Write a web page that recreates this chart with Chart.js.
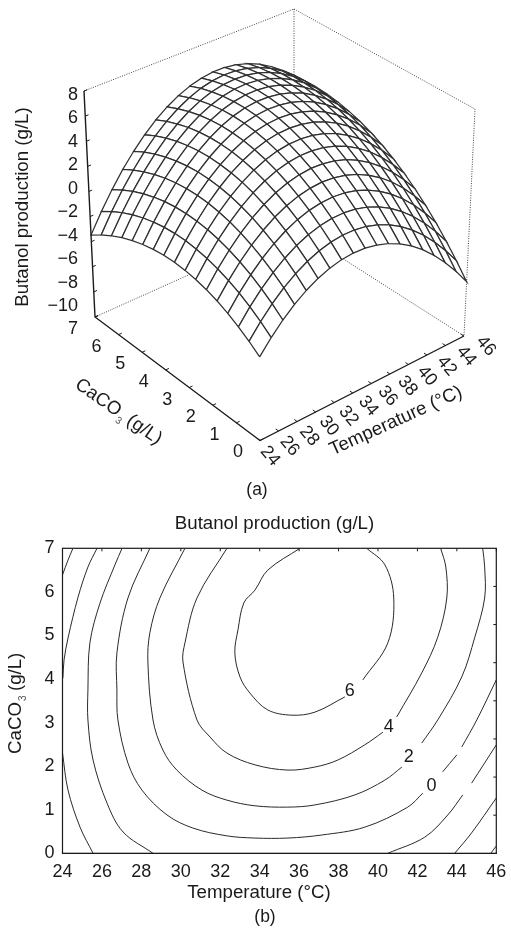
<!DOCTYPE html>
<html lang="en">
<head>
  <meta charset="utf-8">
  <title>butanol production</title>
  <style type="text/css">
  body { margin: 0; background: #fff; }
  canvas { position: absolute; left: 0; }
  #surf { top: 0; }
  #cont { top: 500px; }
  </style>
</head>
<body>
<canvas id="surf" width="511" height="500"></canvas>
<canvas id="cont" width="511" height="429"></canvas>

<script src="https://cdn.jsdelivr.net/npm/chart.js"></script>
<script>
  // === surface grid ===
  const T_MIN = 24, T_MAX = 46, C_MIN = 0, C_MAX = 7, Z_MIN = -10, Z_MAX = 8;
  const NT = 18, NC = 16; // mesh intervals
  const surfZ = [
    [-3.60,-2.98,-2.44,-1.98,-1.60,-1.30,-1.09,-0.96,-0.91,-0.94,-1.06,-1.26,-1.54,-1.90,-2.34,-2.87,-3.47],
    [-2.55,-1.90,-1.33,-0.84,-0.44,-0.11,0.13,0.29,0.37,0.36,0.27,0.10,-0.15,-0.48,-0.90,-1.39,-1.97],
    [-1.63,-0.95,-0.36,0.16,0.59,0.94,1.21,1.40,1.50,1.53,1.47,1.33,1.10,0.80,0.41,-0.06,-0.61],
    [-0.86,-0.15,0.48,1.02,1.48,1.86,2.16,2.37,2.51,2.56,2.53,2.41,2.22,1.94,1.58,1.14,0.62],
    [-0.22,0.52,1.17,1.74,2.23,2.64,2.96,3.21,3.37,3.45,3.45,3.36,3.19,2.94,2.61,2.20,1.70],
    [0.28,1.05,1.73,2.33,2.85,3.28,3.64,3.91,4.10,4.20,4.23,4.17,4.03,3.81,3.51,3.12,2.65],
    [0.65,1.44,2.15,2.78,3.32,3.79,4.17,4.47,4.68,4.82,4.87,4.84,4.73,4.54,4.26,3.91,3.47],
    [0.88,1.70,2.43,3.09,3.66,4.15,4.56,4.89,5.13,5.30,5.38,5.38,5.29,5.13,4.88,4.55,4.14],
    [0.96,1.81,2.58,3.26,3.86,4.38,4.82,5.17,5.45,5.64,5.75,5.78,5.72,5.58,5.36,5.06,4.68],
    [0.92,1.79,2.59,3.30,3.93,4.48,4.94,5.32,5.62,5.84,5.98,6.04,6.01,5.90,5.71,5.44,5.08],
    [0.73,1.64,2.46,3.20,3.85,4.43,4.92,5.33,5.66,5.91,6.08,6.16,6.16,6.08,5.91,5.67,5.34],
    [0.41,1.34,2.19,2.96,3.64,4.25,4.77,5.21,5.56,5.84,6.03,6.14,6.17,6.12,5.98,5.77,5.47],
    [-0.05,0.91,1.79,2.58,3.30,3.93,4.48,4.94,5.33,5.63,5.85,5.99,6.05,6.02,5.92,5.73,5.46],
    [-0.65,0.34,1.25,2.07,2.81,3.47,4.05,4.54,4.96,5.29,5.54,5.70,5.79,5.79,5.71,5.55,5.31],
    [-1.38,-0.37,0.57,1.42,2.19,2.87,3.48,4.00,4.44,4.80,5.08,5.28,5.39,5.42,5.37,5.24,5.02],
    [-2.26,-1.21,-0.25,0.63,1.43,2.14,2.78,3.33,3.80,4.18,4.49,4.71,4.85,4.91,4.89,4.78,4.60],
    [-3.27,-2.20,-1.21,-0.30,0.53,1.27,1.93,2.51,3.01,3.43,3.76,4.01,4.18,4.27,4.27,4.19,4.03],
    [-4.41,-3.31,-2.30,-1.36,-0.51,0.27,0.95,1.56,2.09,2.53,2.89,3.17,3.37,3.48,3.52,3.47,3.33],
    [-5.70,-4.57,-3.53,-2.56,-1.68,-0.88,-0.16,0.47,1.03,1.50,1.89,2.19,2.42,2.56,2.62,2.60,2.50]
  ];
  const zTicks = [8,6,4,2,0,-2,-4,-6,-8,-10];
  const tempTicks = [24,26,28,30,32,34,36,38,40,42,44,46];
  const caco3Ticks = [7,6,5,4,3,2,1,0];

  // === contours; gaps are where the original line breaks ===
  const m6aT = [24,24.28,24.53],                m6aC = [6.39,6.73,7];
  const m6bT = [45.72,46],                      m6bC = [0,0.17];
  const m4aT = [25.75,25.29,24.79,24.28,24.08,24.02], m4aC = [7,6.57,5.88,4.94,4.44,4.02];
  const m4bT = [24,24.28,24.89,25.55],          m4bC = [2.3,1.45,0.6,0];
  const m4cT = [43.89,44.75,46],                m4cC = [0,0.47,1.27];
  const m2aT = [27.02,26.66,25.9,25.39,25.29,25.29,25.55,26.26,27.07,28.59];
  const m2aC = [7,6.62,5.74,4.83,3.75,3.06,2.14,1.15,0.49,0];
  const m2bT = [40.5,42.37,43.54,44.3],         m2bC = [0,0.37,0.88,1.34];
  const m2cT = [44.75,46],                      m2cC = [1.61,2.49];
  const p0aT = [28.43,27.32,26.76,26.76,26.81,27.32,28.03,29.3,30.61,32.34,33.76,35.43,37.15,39.33,41.51,42.27];
  const p0aC = [7,5.86,4.6,3.75,3.06,2.07,1.45,0.88,0.58,0.4,0.35,0.35,0.42,0.6,1.06,1.38];
  const p0bT = [43.28,44],                      p0bC = [1.87,2.26];
  const p0cT = [44.25,45.01,46],                p0cC = [2.44,3.06,3.98];
  const p2aT = [30.21,28.94,28.43,28.33,28.59,29.09,29.8,31.07,32.34,33.76,35.43,36.8,38.83,40.35,41.21];
  const p2aC = [7,5.86,5.06,4.39,3.06,2.37,1.91,1.45,1.22,1.09,1.06,1.11,1.34,1.68,1.98];
  const p2bT = [42.22,43.03,44.25,44.91,45.41,45.41,45.31];
  const p2bC = [2.53,3.06,4.05,4.96,5.86,6.57,7];
  const p4aT = [32.34,30.82,30.21,30.11,30.82,31.48,32.34,33.76,35.43,36.8,37.96,39.33,40.25];
  const p4aC = [7,5.86,4.83,4.39,3.06,2.67,2.3,2.03,1.91,1.98,2.14,2.49,2.78];
  const p4bT = [40.95,42.22,43.03,43.49,43.44,43.18];
  const p4bC = [3.13,4.14,4.96,5.86,6.57,7];
  const p6aT = [36.04,34.41,33.76,33.2,32.9,32.74,33,33.5,34.41,35.63,36.8,38.32];
  const p6aC = [7,6.5,6.04,5.75,5.13,4.6,4.05,3.68,3.29,3.17,3.24,3.59];
  const p6bT = [39.23,40.5,40.8,40.35,39.43];
  const p6bC = [3.98,4.83,5.86,6.62,7];
  const contourLabels = ['6','4','2','0'];
  const contourLabelT = [38.57,40.55,41.56,42.72];
  const contourLabelC = [3.73,2.9,2.21,1.54];

  const FONT = '"Liberation Sans", Arial, sans-serif';
  const INK = '#1a1a1a';
  const TICK_SIZE = 18, TITLE_SIZE = 18.7;

  // box corners on the page, [x,y]; index is T end, CaCO3 end
  const boxLow  = [[[260,440.5],[95,317]], [[464,336],[294,227.5]]];
  const boxHigh = [[[259,205.5],[84,91]],  [[475,109],[294,9]]];

  function lerp(a,b,f) { return a+(b-a)*f; }

  // plain trilinear mapping into the box, good enough for this weak perspective
  function project(T,C,z) {
    let u = (T-T_MIN)/(T_MAX-T_MIN), v = (C-C_MIN)/(C_MAX-C_MIN), w = (z-Z_MIN)/(Z_MAX-Z_MIN);
    let p = [0,1].map(k => {
      let lo = lerp(lerp(boxLow[0][0][k],boxLow[1][0][k],u), lerp(boxLow[0][1][k],boxLow[1][1][k],u), v);
      let hi = lerp(lerp(boxHigh[0][0][k],boxHigh[1][0][k],u), lerp(boxHigh[0][1][k],boxHigh[1][1][k],u), v);
      return lerp(lo,hi,w);
    });
    return {x:p[0], y:p[1]};
  }

  function nodeT(i) { return T_MIN+(T_MAX-T_MIN)*i/NT; }
  function nodeC(j) { return C_MIN+(C_MAX-C_MIN)*j/NC; }

  function seg(points, color, width, dash) {
    return { data: points, showLine: true, pointRadius: 0, borderColor: color,
      borderWidth: width, borderDash: dash || [], fill: false, tension: 0 };
  }

  let surfSets = [];
  // front axes and ticks, on top of everything
  surfSets.push(seg([project(24,7,8),project(24,7,-10),project(24,0,-10),project(46,0,-10)], INK, 1.4));
  zTicks.forEach(z => surfSets.push(seg([project(24,7,z),project(24.35,7,z)], INK, 1)));
  tempTicks.forEach(t => surfSets.push(seg([project(t,0,-10),project(t,0.12,-10)], INK, 1)));
  caco3Ticks.forEach(c => surfSets.push(seg([project(24,c,-10),project(24.35,c,-10)], INK, 1)));

  // mesh cells front to back: first dataset ends up on top
  for (let i = 0; i < NT; ++i) {
    for (let j = 0; j < NC; ++j) {
      let cell = [[i,j],[i+1,j],[i+1,j+1],[i,j+1],[i,j]].map(n => project(nodeT(n[0]),nodeC(n[1]),surfZ[n[0]][n[1]]));
      let ds = seg(cell, '#303030', 1.25);
      ds.fill = 'shape';
      ds.backgroundColor = '#ffffff';
      surfSets.push(ds);
    }
  }

  // dotted back of the box
  const DOT = [1,1.4];
  surfSets.push(seg([project(24,7,8),project(46,7,8),project(46,0,8),project(46,0,-10)], '#444', 1, DOT));
  surfSets.push(seg([project(46,7,8),project(46,7,-10)], '#444', 1, DOT));
  surfSets.push(seg([project(24,7,-10),project(46,7,-10),project(46,0,-10)], '#444', 1, DOT));

  function drawText(ctx, str, x, y, size, angle, align) {
    ctx.save();
    ctx.translate(x,y);
    ctx.rotate((angle||0)*Math.PI/180);
    ctx.font = size+'px '+FONT;
    ctx.fillStyle = INK;
    ctx.textAlign = align || 'center';
    ctx.textBaseline = 'middle';
    ctx.fillText(str,0,0);
    ctx.restore();
  }

  // CaCO3 title with its small subscript; x,y is the baseline start
  function drawCacoTitle(ctx, x, y, angle) {
    ctx.save();
    ctx.translate(x,y);
    ctx.rotate(angle*Math.PI/180);
    ctx.textAlign = 'left';
    ctx.textBaseline = 'alphabetic';
    ctx.fillStyle = INK;
    ctx.font = TITLE_SIZE+'px '+FONT;
    ctx.fillText('CaCO',0,0);
    let w = ctx.measureText('CaCO').width;
    ctx.fillText('(g/L)',w+11,0);
    ctx.font = '10px '+FONT;
    ctx.fillStyle = '#555';
    ctx.fillText('3',w+1,5);
    ctx.restore();
  }

  const surfLabels = {
    id: 'surfLabels',
    afterDraw(chart) {
      const ctx = chart.ctx;
      zTicks.forEach((z,k) => {
        drawText(ctx, (z<0?'\u2212'+(-z):''+z), 78, lerp(95,306,k/(zTicks.length-1)), TICK_SIZE, 0, 'right');
      });
      tempTicks.forEach((t,k) => {
        let p = project(t,0,-10), f = k/(tempTicks.length-1);
        drawText(ctx, ''+t, p.x+lerp(10,22,f), p.y+lerp(15.5,10,f), TICK_SIZE, 50);
      });
      caco3Ticks.forEach(c => {
        let p = project(24,c,-10);
        drawText(ctx, ''+c, p.x-22, p.y+12, TICK_SIZE);
      });
      drawText(ctx, 'Butanol production (g/L)', 23, 207, TITLE_SIZE, -90);
      drawText(ctx, 'Temperature (\u00b0C)', 396, 421, TITLE_SIZE, -24.5);
      drawText(ctx, '(a)', 257, 490, 17.5);
      drawCacoTitle(ctx, 74, 387, 35);
    }
  };

  new Chart(document.getElementById('surf'), {
    type: 'scatter',
    data: { datasets: surfSets },
    plugins: [surfLabels],
    options: {
      responsive: false,
      animation: false,
      layout: {padding: 0},
      plugins: {legend: {display: false}, tooltip: {enabled: false}},
      scales: {
        x: {display: false, min: 0, max: 511},
        y: {display: false, min: 0, max: 500, reverse: true}
      }
    }
  });

  function contour(Ts, Cs) {
    let d = seg(Ts.map((t,i) => ({x:t, y:Cs[i]})), '#2a2a2a', 1);
    d.tension = 0.35;
    return d;
  }

  const contFrame = {
    id: 'contFrame',
    afterDraw(chart) {
      const ctx = chart.ctx, a = chart.chartArea, xs = chart.scales.x, ys = chart.scales.y;
      ctx.save();
      ctx.strokeStyle = INK;
      ctx.lineWidth = 1.2;
      ctx.strokeRect(a.left, a.top, a.width, a.height);
      ctx.lineWidth = 1;
      ctx.beginPath();
      tempTicks.forEach(t => {
        let x = xs.getPixelForValue(t);
        ctx.moveTo(x,a.top); ctx.lineTo(x,a.top+3);
      });
      // the right side has its own eight divisions in the original
      for (let k = 1; k < 8; ++k) {
        let y = ys.getPixelForValue(C_MAX*k/8);
        ctx.moveTo(a.right,y); ctx.lineTo(a.right-3,y);
      }
      ctx.stroke();
      ctx.restore();
      contourLabels.forEach((s,k) => {
        drawText(ctx, s, xs.getPixelForValue(contourLabelT[k]), ys.getPixelForValue(contourLabelC[k]), TICK_SIZE);
      });
      drawText(ctx, 'Butanol production (g/L)', 274.5, 24, TITLE_SIZE);
      drawText(ctx, 'Temperature (\u00b0C)', 259, 393, TITLE_SIZE);
      drawText(ctx, '(b)', 265, 417, 17.5);
      drawCacoTitle(ctx, 21, 254, -90);
    }
  };

  new Chart(document.getElementById('cont'), {
    type: 'scatter',
    data: { datasets: [
      contour(m6aT,m6aC), contour(m6bT,m6bC),
      contour(m4aT,m4aC), contour(m4bT,m4bC), contour(m4cT,m4cC),
      contour(m2aT,m2aC), contour(m2bT,m2bC), contour(m2cT,m2cC),
      contour(p0aT,p0aC), contour(p0bT,p0bC), contour(p0cT,p0cC),
      contour(p2aT,p2aC), contour(p2bT,p2bC),
      contour(p4aT,p4aC), contour(p4bT,p4bC),
      contour(p6aT,p6aC), contour(p6bT,p6bC)
    ] },
    plugins: [contFrame],
    options: {
      responsive: false,
      animation: false,
      layout: {padding: {top: 48.3, right: 14.7, bottom: 0, left: 0}},
      plugins: {legend: {display: false}, tooltip: {enabled: false}},
      scales: {
        x: {
          min: T_MIN, max: T_MAX,
          afterFit: (s) => { s.height = 75.7; },
          grid: {display: false},
          border: {color: INK},
          ticks: {stepSize: 2, color: INK, maxRotation: 0, padding: 0, font: {family: FONT, size: TICK_SIZE}}
        },
        y: {
          min: C_MIN, max: C_MAX,
          afterFit: (s) => { s.width = 62.5; },
          grid: {display: false},
          border: {color: INK},
          ticks: {stepSize: 1, color: INK, padding: 0, font: {family: FONT, size: TICK_SIZE}}
        }
      }
    }
  });
</script>
</body>
</html>
